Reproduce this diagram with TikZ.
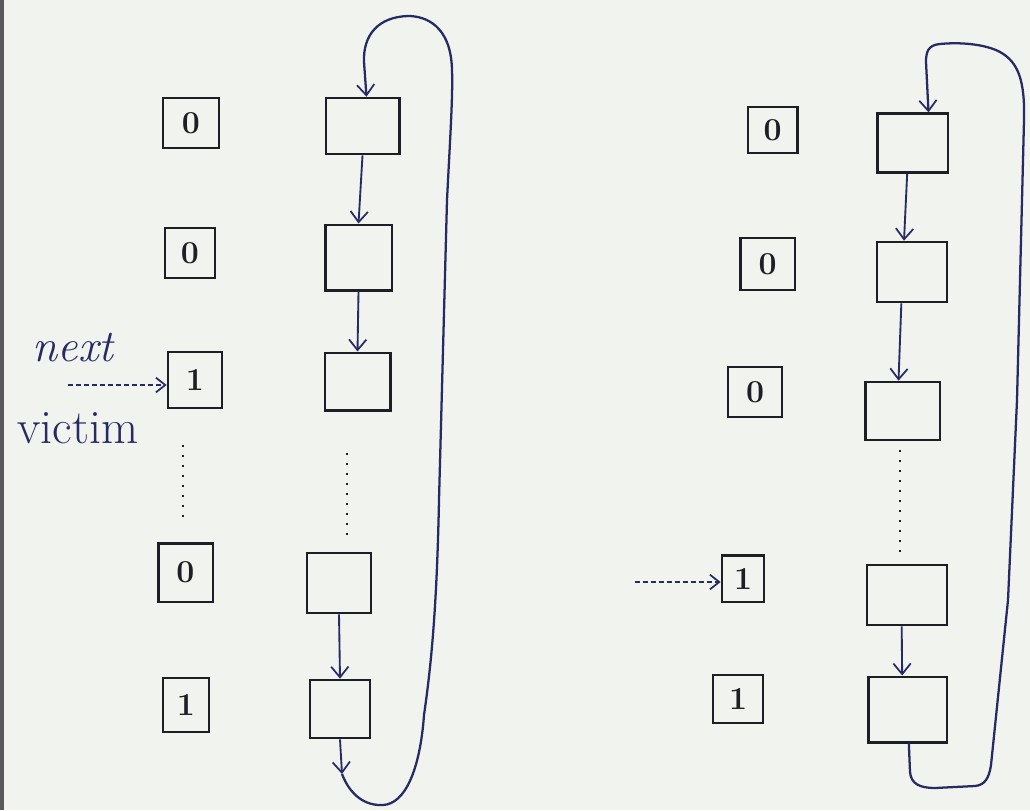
\documentclass[tikz,border=0pt]{standalone}
\usepackage{fontspec}
\usetikzlibrary{arrows.meta}
\definecolor{paper}{RGB}{241,243,238}
\definecolor{ink}{RGB}{30,30,38}
\definecolor{pen}{RGB}{40,42,100}
\begin{document}
\begin{tikzpicture}[x=0.75pt,y=-0.75pt,
  bitbox/.style={draw=ink,line width=2pt,inner sep=0pt,font=\fontsize{24}{28}\selectfont\bfseries,text=ink},
  cellbox/.style={draw=ink,line width=2pt,inner sep=0pt},
  link/.style={draw=pen,line width=1.4pt,-{Straight Barb[length=8pt,width=13pt,line width=1.3pt]}},
  loopline/.style={draw=pen,line width=1.7pt},
  ptr/.style={draw=pen,line width=1.3pt,dash pattern=on 4pt off 2pt,-{Straight Barb[length=7pt,width=11pt,line width=1.3pt]}},
  dots/.style={draw=ink,line width=1.7pt,dash pattern=on 1.5pt off 6pt},
  lbl/.style={text=pen,inner sep=0pt}]
\fill[paper] (0,0) rectangle (1030,810);
\useasboundingbox (0,0) rectangle (1030,810);
\fill[black!65] (0,0) rectangle (4,810);

% ---------- left panel ----------
\node[bitbox,minimum width=42pt,minimum height=37.5pt] (L0) at (191,123) {0};
\node[bitbox,minimum width=37.5pt,minimum height=37.5pt] (L1) at (190,253) {0};
\node[bitbox,minimum width=40.5pt,minimum height=42pt] (L2) at (195,380) {1};
\node[bitbox,minimum width=41pt,minimum height=44pt] (L3) at (185.5,572.5) {0};
\node[bitbox,minimum width=34.5pt,minimum height=40.5pt] (L4) at (186,705) {1};

\node[cellbox,minimum width=55pt,minimum height=42pt] (A) at (362.5,126) {};
\node[cellbox,minimum width=50pt,minimum height=49pt] (B) at (358.5,257.5) {};
\node[cellbox,minimum width=49pt,minimum height=43pt] (C) at (357.5,381.5) {};
\node[cellbox,minimum width=48pt,minimum height=45pt] (D) at (339,583) {};
\node[cellbox,minimum width=45pt,minimum height=43.5pt] (E) at (340,709) {};

\draw[link] (A.south) -- (B.north);
\draw[link] (B.south) -- (C.north);
\draw[link] (D.south) -- (E.north);

\coordinate (k1) at (342,774);
\draw[link] (E.south) -- (k1);
\draw[loopline,-{Straight Barb[length=8pt,width=13pt,line width=1.3pt]}]
  (k1) .. controls (350,795) and (365,806) .. (383,805)
  .. controls (405,804) and (420,770) .. (424,715)
  .. controls (432,660) and (437,600) .. (439,500)
  -- (447,200)
  .. controls (450,140) and (453,95) .. (452,70)
  .. controls (451,25) and (425,16) .. (408,16)
  .. controls (378,17) and (363,35) .. (364,62)
  -- ([xshift=3pt]A.north);

\coordinate (n0) at (68,385);
\draw[ptr] (n0) -- (L2.west |- n0);
\node[lbl,font=\fontsize{34}{36}\selectfont\itshape] (next) at (73,348) {next};
\node[lbl,font=\fontsize{36}{38}\selectfont] (victim) at (78,428) {victim};

\coordinate (dl1) at (183,445); \coordinate (dl2) at (183,518);
\draw[dots] (dl1) -- (dl2);
\coordinate (dc1) at (347,453); \coordinate (dc2) at (347,536);
\draw[dots] (dc1) -- (dc2);

% ---------- right panel ----------
\node[bitbox,minimum width=37pt,minimum height=34.5pt] (R0) at (772.5,130) {0};
\node[bitbox,minimum width=41pt,minimum height=39pt] (R1) at (767.5,264) {0};
\node[bitbox,minimum width=40.5pt,minimum height=37.5pt] (R2) at (755,392) {0};
\node[bitbox,minimum width=31.5pt,minimum height=35pt] (R3) at (743,578.5) {1};
\node[bitbox,minimum width=37.5pt,minimum height=36pt] (R4) at (738,699) {1};

\node[cellbox,minimum width=53pt,minimum height=44pt] (RA) at (912.5,143) {};
\node[cellbox,minimum width=52.5pt,minimum height=45pt] (RB) at (912,272) {};
\node[cellbox,minimum width=56pt,minimum height=43.5pt] (RC) at (902.5,411) {};
\node[cellbox,minimum width=60pt,minimum height=45pt] (RD) at (907,595) {};
\node[cellbox,minimum width=59pt,minimum height=49pt] (RE) at (907.5,709.5) {};

\draw[link] ([xshift=-4pt]RA.south) -- ([xshift=-6pt]RB.north);
\draw[link] ([xshift=-8pt]RB.south) -- ([xshift=-3pt]RC.north);
\draw[link] ([xshift=-4pt]RD.south) -- ([xshift=-4pt]RE.north);

\draw[loopline,-{Straight Barb[length=8pt,width=13pt,line width=1.3pt]}]
  ([xshift=1pt]RE.south)
  -- (910,772)
  .. controls (911,784) and (920,788) .. (935,788)
  -- (975,786)
  .. controls (985,785) and (989,778) .. (991,765)
  -- (1008,600)
  -- (1017,400)
  -- (1024,120)
  .. controls (1025,80) and (1018,62) .. (1000,52)
  .. controls (985,44) and (960,42) .. (940,44)
  .. controls (928,45) and (926,52) .. (926,62)
  -- ([xshift=12pt]RA.north);

\coordinate (m0) at (635,582);
\draw[ptr] (m0) -- (R3.west |- m0);

\coordinate (dr1) at (900,450); \coordinate (dr2) at (900,553);
\draw[dots] (dr1) -- (dr2);
\end{tikzpicture}
\end{document}
